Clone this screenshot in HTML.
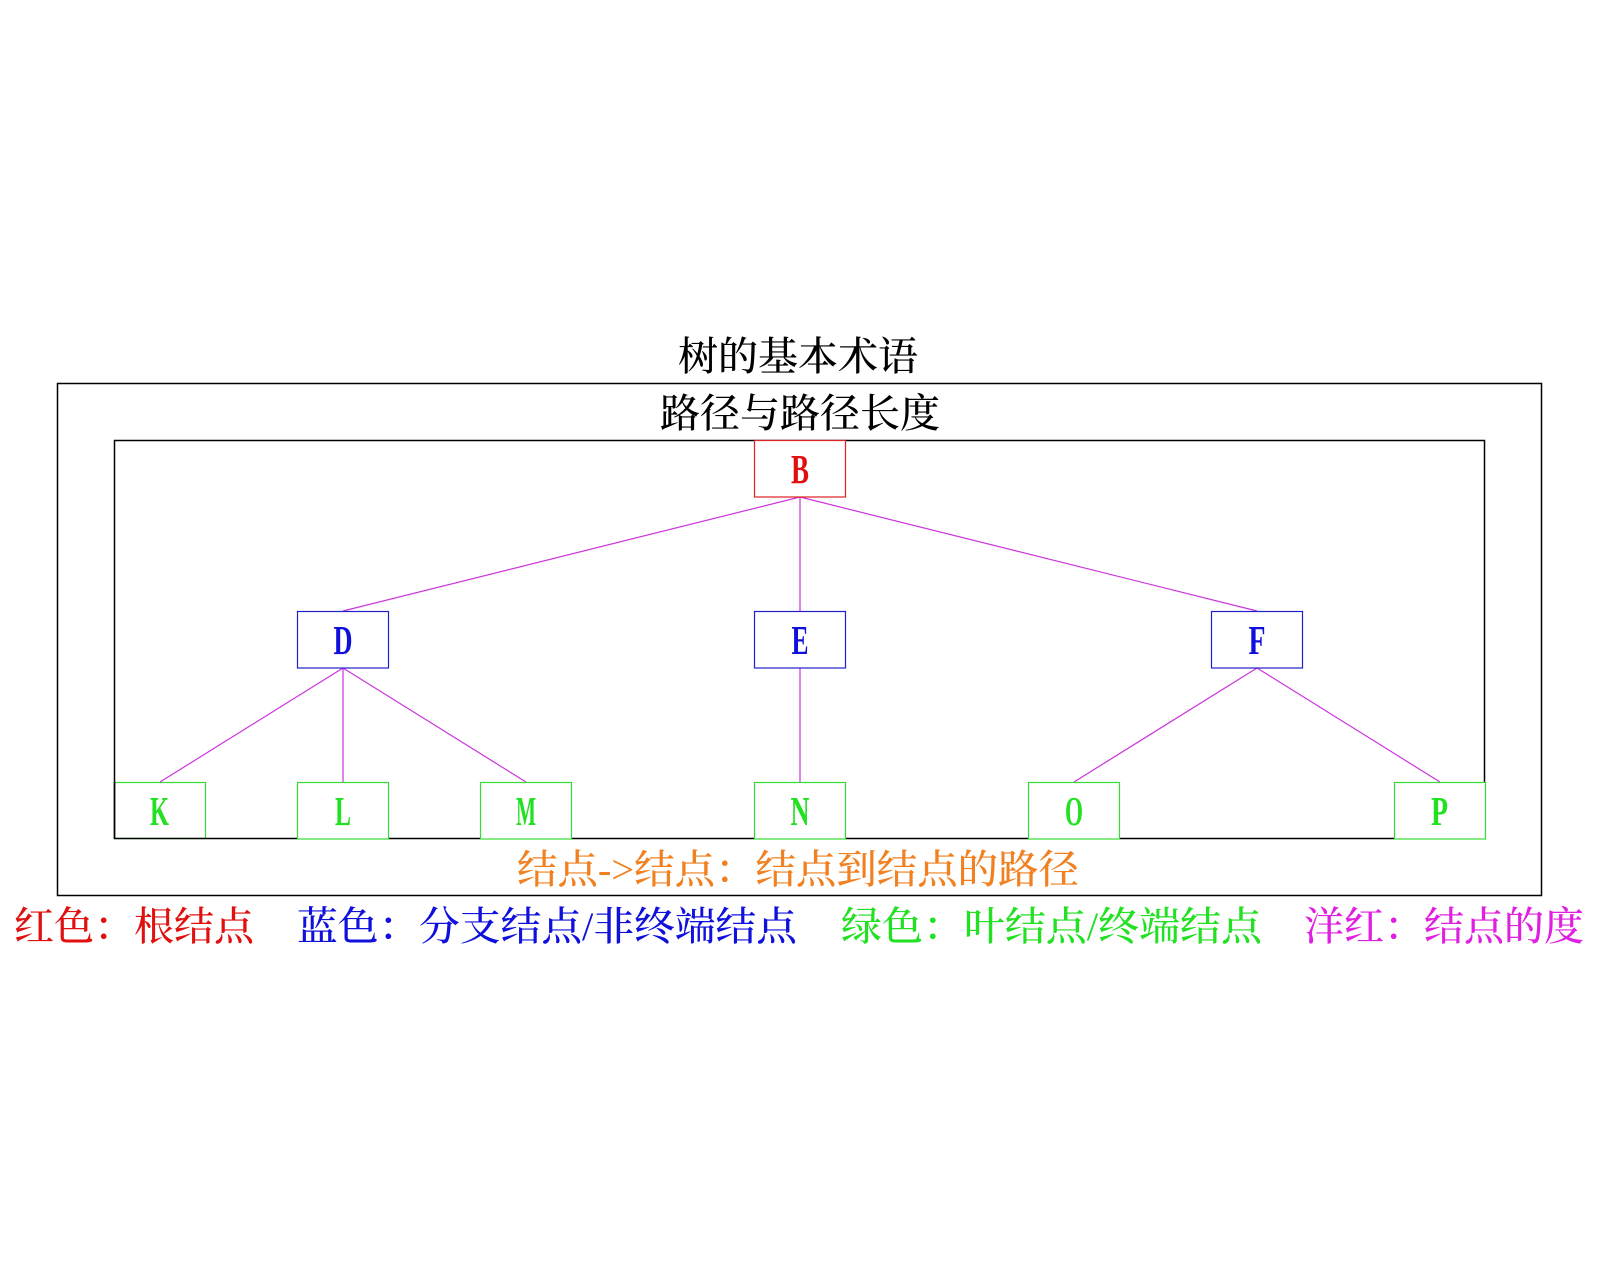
<!DOCTYPE html>
<html>
<head>
<meta charset="utf-8">
<style>
  html,body{margin:0;padding:0;background:#fff;}
  body{width:1600px;height:1280px;overflow:hidden;}
  svg{display:block;}
  .cjk{font-family:"Liberation Serif","Noto Serif CJK SC","Noto Sans CJK SC",serif;font-size:40px;font-weight:500;}
  .lat{font-family:"Liberation Serif",serif;font-size:41px;font-weight:bold;}
</style>
</head>
<body>
<svg width="1600" height="1280" viewBox="0 0 1600 1280" xmlns="http://www.w3.org/2000/svg">
  <rect x="0" y="0" width="1600" height="1280" fill="#ffffff"/>

  <!-- Titles -->
  <text class="cjk" x="678" y="370" textLength="240" lengthAdjust="spacingAndGlyphs" fill="#000">树的基本术语</text>
  <rect x="57.5" y="383.5" width="1484" height="512" fill="none" stroke="#000" stroke-width="1.5"/>
  <text class="cjk" x="660" y="427" textLength="280" lengthAdjust="spacingAndGlyphs" fill="#000">路径与路径长度</text>

  <!-- K box drawn before inner frame -->
  <rect x="114.5" y="782.5" width="91" height="56" fill="none" stroke="#33dd33" stroke-width="1.2"/>

  <!-- Inner frame -->
  <rect x="114.5" y="440.5" width="1370" height="398" fill="none" stroke="#000" stroke-width="1.5"/>

  <!-- Connectors -->
  <g stroke="#cc33dd" stroke-width="1.2" fill="none">
    <line x1="800" y1="497" x2="343" y2="611"/>
    <line x1="800" y1="497" x2="800" y2="611"/>
    <line x1="800" y1="497" x2="1257" y2="611"/>
    <line x1="343" y1="668" x2="160" y2="782"/>
    <line x1="343" y1="668" x2="343" y2="782"/>
    <line x1="343" y1="668" x2="526" y2="782"/>
    <line x1="800" y1="668" x2="800" y2="782"/>
    <line x1="1257" y1="668" x2="1074" y2="782"/>
    <line x1="1257" y1="668" x2="1440" y2="782"/>
  </g>

  <!-- Root -->
  <rect x="754.5" y="440.5" width="91" height="56.5" fill="#fff" stroke="#dd2222" stroke-width="1.2"/>
  <text class="lat" x="791" y="483" textLength="18" lengthAdjust="spacingAndGlyphs" fill="#e01010">B</text>

  <!-- Branch nodes -->
  <g fill="#fff" stroke="#2020cc" stroke-width="1.2">
    <rect x="297.5" y="611.5" width="91" height="56.5"/>
    <rect x="754.5" y="611.5" width="91" height="56.5"/>
    <rect x="1211.5" y="611.5" width="91" height="56.5"/>
  </g>
  <g class="lat" fill="#1010dd">
    <text x="333.5" y="654" textLength="19" lengthAdjust="spacingAndGlyphs">D</text>
    <text x="791.5" y="654" textLength="17" lengthAdjust="spacingAndGlyphs">E</text>
    <text x="1248.5" y="654" textLength="17" lengthAdjust="spacingAndGlyphs">F</text>
  </g>

  <!-- Leaf nodes -->
  <g fill="#fff" stroke="#33dd33" stroke-width="1.2">
    <rect x="297.5" y="782.5" width="91" height="56.5"/>
    <rect x="480.5" y="782.5" width="91" height="56.5"/>
    <rect x="754.5" y="782.5" width="91" height="56.5"/>
    <rect x="1028.5" y="782.5" width="91" height="56.5"/>
    <rect x="1394.5" y="782.5" width="91" height="56.5"/>
  </g>
  <line x1="114.5" y1="782" x2="114.5" y2="839" stroke="#000" stroke-width="1.5"/>
  <g class="lat" fill="#22e022">
    <text x="150" y="825" textLength="19" lengthAdjust="spacingAndGlyphs">K</text>
    <text x="335" y="825" textLength="16" lengthAdjust="spacingAndGlyphs">L</text>
    <text x="516" y="825" textLength="20" lengthAdjust="spacingAndGlyphs">M</text>
    <text x="790.5" y="825" textLength="19" lengthAdjust="spacingAndGlyphs">N</text>
    <text x="1065" y="825" textLength="18" lengthAdjust="spacingAndGlyphs">O</text>
    <text x="1431" y="825" textLength="17" lengthAdjust="spacingAndGlyphs">P</text>
  </g>

  <!-- Caption -->
  <text class="cjk" x="517" y="883" textLength="562" lengthAdjust="spacingAndGlyphs" fill="#f08020">结点-&gt;结点：结点到结点的路径</text>

  <!-- Legend -->
  <text class="cjk" x="14" y="940" textLength="240" lengthAdjust="spacingAndGlyphs" fill="#e01010">红色：根结点</text>
  <text class="cjk" x="297" y="940" textLength="500" lengthAdjust="spacingAndGlyphs" fill="#1010dd">蓝色：分支结点/非终端结点</text>
  <text class="cjk" x="841" y="940" textLength="421" lengthAdjust="spacingAndGlyphs" fill="#22e022">绿色：叶结点/终端结点</text>
  <text class="cjk" x="1304" y="940" textLength="280" lengthAdjust="spacingAndGlyphs" fill="#e020e0">洋红：结点的度</text>
</svg>
</body>
</html>
